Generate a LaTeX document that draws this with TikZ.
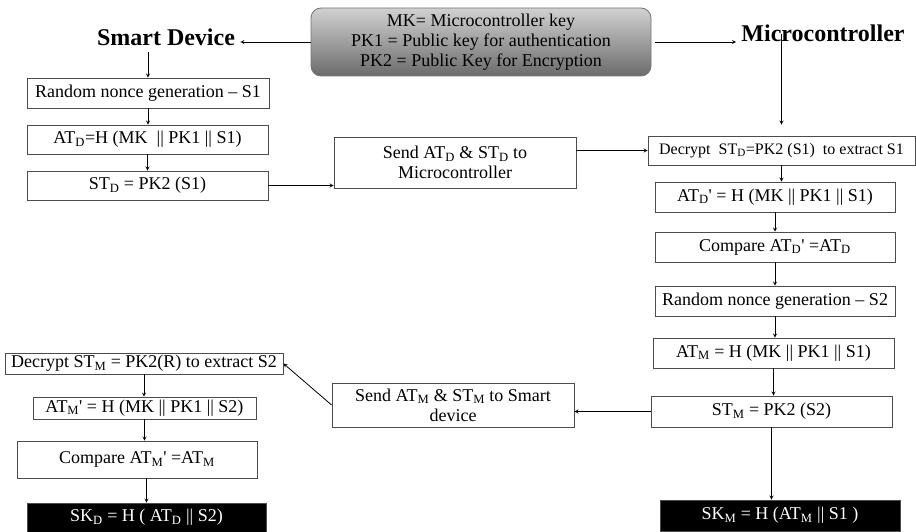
\documentclass[tikz,border=0pt]{standalone}
\usepackage{fontspec}
\setmainfont{Liberation Serif}
\tikzset{
  stepbox/.style={draw=black!70, line width=0.8pt, fill=white, inner sep=1pt, align=center, font=\fontsize{18}{20}\selectfont},
  keybox/.style={stepbox, fill=black, text=white},
  title/.style={inner sep=5pt, font=\fontsize{24}{26}\selectfont\bfseries},
}
\newcommand{\lo}[1]{\textsubscript{#1}}
\newcommand{\pr}{\textquotesingle}
\begin{document}
\begin{tikzpicture}[x=1pt, y=-1pt, >=stealth, line width=0.8pt]
\useasboundingbox (0,0) rectangle (916,532);
% key legend and the two parties
\node[draw=black!55, rounded corners=10pt, top color=black!18, bottom color=black!58, minimum width=340pt, minimum height=68pt, align=center, font=\fontsize{18}{20}\selectfont] (legend) at (481, 42) {MK= Microcontroller key\\PK1 = Public key for authentication\\PK2 = Public Key for Encryption};
\node[title, anchor=base] (sd) at (166, 46) {Smart Device};
\node[title, anchor=base] (mc) at (823, 42) {Microcontroller};
\draw[->] (legend.west) -- (legend.west -| sd.east);
\draw[->, shorten <=4pt] (legend.east) -- (legend.east -| mc.west);

% smart device side
\node[stepbox, minimum width=242pt, minimum height=30pt] (rn1) at (148, 93) {Random nonce generation -- S1};
\node[stepbox, minimum width=241pt, minimum height=29pt] (atD) at (147.5, 139.5) {AT\lo{D}=H (MK \ || PK1 || S1)};
\node[stepbox, minimum width=241pt, minimum height=29pt] (stD) at (147.5, 185.5) {ST\lo{D} = PK2 (S1)};
\node[stepbox, minimum width=242pt, minimum height=51pt] (sendD) at (455, 162.5) {Send AT\lo{D} \& ST\lo{D} to\\Microcontroller};

% microcontroller side
\node[stepbox, minimum width=267pt, minimum height=29pt, font=\fontsize{16}{18}\selectfont] (decS) at (781.5, 150.5) {Decrypt \ ST\lo{D}=PK2 (S1) \ to extract S1};
\node[stepbox, minimum width=240pt, minimum height=30pt] (atDp) at (775, 197) {AT\lo{D}\pr{} = H (MK || PK1 || S1)};
\node[stepbox, minimum width=240pt, minimum height=30pt] (cmpD) at (775, 247) {Compare AT\lo{D}\pr{} =AT\lo{D}};
\node[stepbox, minimum width=240pt, minimum height=30pt] (rn2) at (775, 301) {Random nonce generation -- S2};
\node[stepbox, minimum width=241pt, minimum height=30pt] (atM) at (773.5, 353) {AT\lo{M} = H (MK || PK1 || S1)};
\node[stepbox, minimum width=241pt, minimum height=31pt] (stM) at (771.5, 411.5) {ST\lo{M} = PK2 (S2)};
\node[keybox, minimum width=240pt, minimum height=31pt] (skM) at (780, 515.5) {SK\lo{M} = H (AT\lo{M} || S1 )};
\node[stepbox, minimum width=242pt, minimum height=44pt] (sendM) at (453, 405) {Send AT\lo{M} \& ST\lo{M} to Smart\\device};

% back on the smart device
\node[stepbox, minimum width=278pt, minimum height=21pt] (decM) at (144, 363.5) {Decrypt ST\lo{M} = PK2(R) to extract S2};
\node[stepbox, minimum width=223pt, minimum height=22pt] (atMp) at (144.5, 408) {AT\lo{M}\pr{} = H (MK || PK1 || S2)};
\node[stepbox, minimum width=240pt, minimum height=37pt] (cmpM) at (137, 459.5) {Compare AT\lo{M}\pr{} =AT\lo{M}};
\node[keybox, minimum width=239pt, minimum height=29pt] (skD) at (146.5, 517.5) {SK\lo{D} = H ( AT\lo{D} || S2)};

% connectors
\draw[->] (sd.south -| rn1.north) -- (rn1.north);
\draw[->] (rn1.south) -- (rn1.south |- atD.north);
\draw[->] (atD.south) -- (atD.south |- stD.north);
\draw[->] (stD.east) -- (stD.east -| sendD.west);
\draw[->] (sendD.east |- decS.west) -- (decS.west);
\draw[->, shorten >=11pt] (mc.center -| decS.north) -- (decS.north);
\draw[->] (decS.south) -- (decS.south |- atDp.north);
\draw[->] (atDp.south) -- (atDp.south |- cmpD.north);
\draw[->] (cmpD.south) -- (cmpD.south |- rn2.north);
\draw[->] (rn2.south) -- (rn2.south |- atM.north);
\draw[->] (atM.south) -- (atM.south |- stM.north);
\draw[->] (stM.south) -- (stM.south |- skM.north);
\draw[->] (stM.west) -- (stM.west -| sendM.east);
\draw[->] (sendM.west) -- (decM.east);
\draw[->] (decM.south) -- (decM.south |- atMp.north);
\draw[->] (atMp.south) -- (atMp.south |- cmpM.north);
\draw[->] (cmpM.south -| skD.north) -- (skD.north);
\end{tikzpicture}
\end{document}
